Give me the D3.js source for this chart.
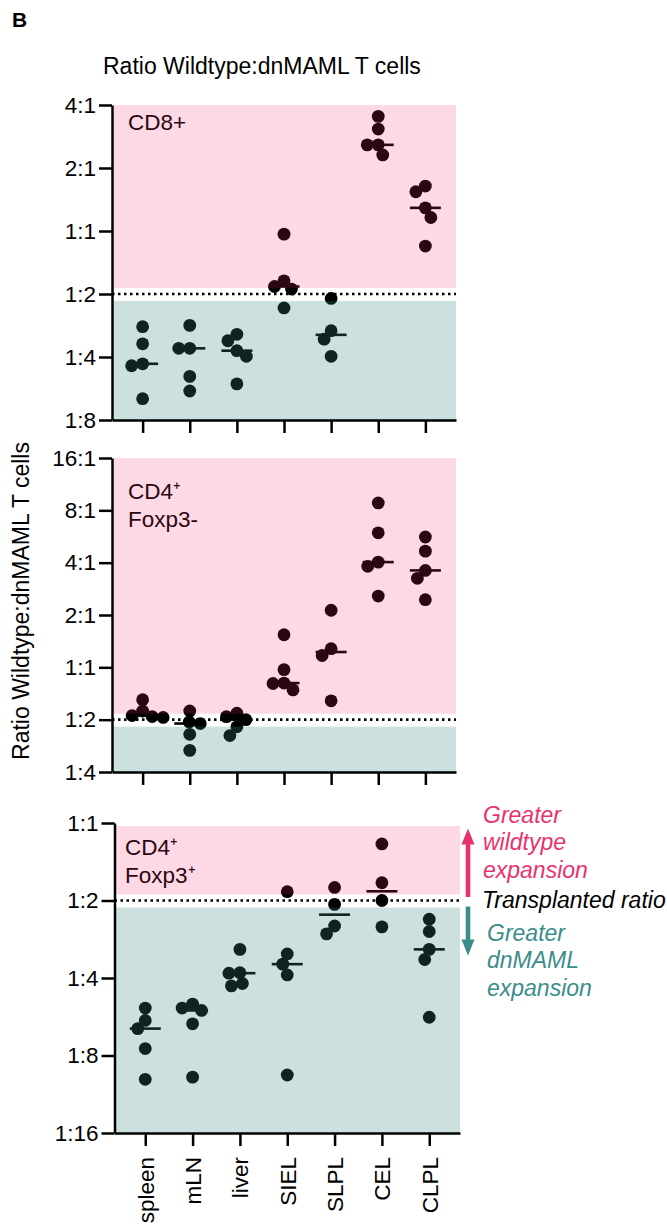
<!DOCTYPE html>
<html>
<head>
<meta charset="utf-8">
<script src="https://cdn.jsdelivr.net/npm/d3@7"></script>
<style>
body { margin: 0; background: #fff; }
text { font-family: "Liberation Sans", Arial, sans-serif; }
</style>
</head>
<body>
<script>
"use strict";

// organs on the x axis
var categories = ["spleen", "mLN", "liver", "SIEL", "SLPL", "CEL", "CLPL"];

// ratio wildtype / dnMAML, one list per organ
var cd8Values = [
    [0.349, 0.289, 0.232, 0.227, 0.158],
    [0.354, 0.275, 0.275, 0.202, 0.172],
    [0.321, 0.299, 0.268, 0.252, 0.186],
    [0.966, 0.578, 0.543, 0.528, 0.429],
    [0.476, 0.334, 0.304, 0.252],
    [3.53, 3.07, 2.58, 2.58, 2.31],
    [1.64, 1.54, 1.29, 1.16, 0.847]
];
var cd4Foxp3negValues = [
    [0.651, 0.561, 0.528, 0.521, 0.515],
    [0.561, 0.485, 0.475, 0.412, 0.333],
    [0.545, 0.52, 0.50, 0.455, 0.405],
    [1.54, 0.97, 0.812, 0.807, 0.742],
    [2.13, 1.28, 1.17, 0.642],
    [8.82, 5.94, 4.03, 3.81, 2.57],
    [5.62, 4.66, 3.61, 3.25, 2.45]
];
var cd4Foxp3posValues = [
    [0.191, 0.171, 0.159, 0.133, 0.101],
    [0.198, 0.191, 0.187, 0.166, 0.103],
    [0.323, 0.262, 0.261, 0.238, 0.233],
    [0.541, 0.310, 0.283, 0.257, 0.105],
    [0.562, 0.483, 0.398, 0.371],
    [0.829, 0.586, 0.5, 0.395],
    [0.423, 0.379, 0.323, 0.295, 0.176]
];

var cd8Ticks = [4, 2, 1, 0.5, 0.25, 0.125];
var cd4negTicks = [16, 8, 4, 2, 1, 0.5, 0.25];
var cd4posTicks = [1, 0.5, 0.25, 0.125, 0.0625];
var transplantedRatio = 0.5;

var PINK = "#e8336f";
var TEAL = "#3a8d8b";

function ratioLabel(v) {
    return v >= 1 ? Math.round(v) + ":1" : "1:" + Math.round(1 / v);
}

// spread dots sideways so they don't pile up (graphpad style)
function beeswarm(ys, minDist) {
    var order = ys.map(function (d, i) { return i; })
        .sort(function (a, b) { return ys[a] - ys[b]; });
    var xs = new Array(ys.length);
    var placed = [];
    var side = -1;
    order.forEach(function (i) {
        var off = 0;
        for (var s = 0; s < 60; s += 0.5) {
            var found = false;
            var tries = s === 0 ? [0] : [s * side, -s * side];
            for (var t = 0; t < tries.length; t++) {
                var ok = placed.every(function (p) {
                    var dx = p.x - tries[t], dy = p.y - ys[i];
                    return dx * dx + dy * dy >= minDist * minDist;
                });
                if (ok) { off = tries[t]; found = true; break; }
            }
            if (found) break;
        }
        if (off !== 0) side = -side;
        xs[i] = off;
        placed.push({x: off, y: ys[i]});
    });
    return xs;
}

function basePanel(svg, cfg) {
    var y = d3.scaleLog().base(2).domain(cfg.domain).range([cfg.bottom, cfg.top]);
    var x = d3.scalePoint().domain(categories).range([cfg.left, cfg.right]).padding(0.65);
    var g = svg.append("g");
    var yMid = y(transplantedRatio);

    // label sits under the tint, like the dots
    cfg.label.forEach(function (line, i) {
        g.append("text")
            .attr("x", cfg.labelX)
            .attr("y", cfg.labelY + i * 28)
            .attr("font-size", "22.5px")
            .attr("fill", "#000")
            .text(line);
    });

    cfg.values.forEach(function (vals, ci) {
        var ys = vals.map(function (v) { return y(v); });
        var xs = beeswarm(ys, 11);
        var cx = x(categories[ci]);
        g.selectAll(null)
            .data(vals)
            .enter()
            .append("circle")
            .attr("cx", function (d, i) { return cx + xs[i]; })
            .attr("cy", function (d, i) { return ys[i]; })
            .attr("r", 6.4)
            .attr("fill", "#000");
        var med = d3.median(vals);
        g.append("line")
            .attr("x1", cx - 15.5)
            .attr("x2", cx + 15.5)
            .attr("y1", y(med))
            .attr("y2", y(med))
            .attr("stroke", "#000")
            .attr("stroke-width", 2.6);
    });

    // tinted regions drawn over the marks
    g.append("rect")
        .attr("x", cfg.left + 1.5)
        .attr("y", cfg.tintTop)
        .attr("width", cfg.right - cfg.left - 1.5)
        .attr("height", yMid - 6 - cfg.tintTop)
        .attr("fill", "rgb(240,40,103)")
        .attr("fill-opacity", 0.175);
    g.append("rect")
        .attr("x", cfg.left + 1.5)
        .attr("y", yMid + 7)
        .attr("width", cfg.right - cfg.left - 1.5)
        .attr("height", cfg.bottom - yMid - 7)
        .attr("fill", "rgb(58,138,131)")
        .attr("fill-opacity", 0.26);

    g.append("line")
        .attr("x1", cfg.left)
        .attr("x2", cfg.right)
        .attr("y1", yMid)
        .attr("y2", yMid)
        .attr("stroke", "#000")
        .attr("stroke-width", 2.6)
        .attr("stroke-dasharray", "2.5,3.5");

    var yAxis = g.append("g")
        .attr("transform", "translate(" + cfg.left + ",0)")
        .call(d3.axisLeft(y).tickValues(cfg.ticks).tickFormat(ratioLabel)
            .tickSize(13).tickSizeOuter(0).tickPadding(3));
    yAxis.selectAll("text").attr("font-size", "22.5px").attr("fill", "#000")
        .attr("font-family", "Liberation Sans, Arial, sans-serif");

    var xAxis = g.append("g")
        .attr("transform", "translate(0," + cfg.bottom + ")")
        .call(d3.axisBottom(x).tickSize(13).tickSizeOuter(0));
    if (cfg.showNames) {
        xAxis.selectAll("text")
            .attr("font-size", "22.5px")
            .attr("fill", "#000")
            .attr("font-family", "Liberation Sans, Arial, sans-serif")
            .attr("transform", "rotate(-90)")
            .attr("x", -24)
            .attr("y", 0)
            .attr("dy", "0.35em")
            .style("text-anchor", "end");
    } else {
        xAxis.selectAll("text").remove();
    }
    svg.selectAll(".domain, .tick line")
        .attr("stroke", "#000")
        .attr("stroke-width", 2.5);
    return y;
}

function baseLegend(svg, y) {
    var yMid = y(transplantedRatio);
    var ax = 468;
    svg.append("path")
        .attr("d", "M" + (ax - 2.3) + "," + (yMid - 3.5) + "V" + (yMid - 56) + "H" + (ax - 6.5)
            + "L" + ax + "," + (yMid - 72) + "L" + (ax + 6.5) + "," + (yMid - 56)
            + "H" + (ax + 2.3) + "V" + (yMid - 3.5) + "Z")
        .attr("fill", PINK);
    svg.append("path")
        .attr("d", "M" + (ax - 2.3) + "," + (yMid + 6) + "V" + (yMid + 39) + "H" + (ax - 6.5)
            + "L" + ax + "," + (yMid + 55) + "L" + (ax + 6.5) + "," + (yMid + 39)
            + "H" + (ax + 2.3) + "V" + (yMid + 6) + "Z")
        .attr("fill", TEAL);

    var up = ["Greater", "wildtype", "expansion"];
    var down = ["Greater", "dnMAML", "expansion"];
    up.forEach(function (s, i) {
        svg.append("text")
            .attr("x", 483).attr("y", yMid - 78 + i * 27.5)
            .attr("font-size", "23px").attr("font-style", "italic")
            .attr("fill", PINK).text(s);
    });
    svg.append("text")
        .attr("x", 482).attr("y", yMid + 7.5)
        .attr("font-size", "23px").attr("font-style", "italic")
        .attr("fill", "#000").text("Transplanted ratio");
    down.forEach(function (s, i) {
        svg.append("text")
            .attr("x", 487).attr("y", yMid + 40 + i * 27.5)
            .attr("font-size", "23px").attr("font-style", "italic")
            .attr("fill", TEAL).text(s);
    });
}

var svg = d3.select("body").append("svg")
    .attr("width", 667)
    .attr("height", 1224);

svg.append("text")
    .attr("x", 12).attr("y", 27)
    .attr("font-size", "21px").attr("font-weight", "bold")
    .text("B");
svg.append("text")
    .attr("x", 103).attr("y", 74)
    .attr("font-size", "23px")
    .text("Ratio Wildtype:dnMAML T cells");
svg.append("text")
    .attr("transform", "translate(29,601) rotate(-90)")
    .attr("text-anchor", "middle")
    .attr("font-size", "23px")
    .text("Ratio Wildtype:dnMAML T cells");

basePanel(svg, {
    top: 105, bottom: 420, left: 112, right: 456, tintTop: 105,
    domain: [0.125, 4], ticks: cd8Ticks, values: cd8Values,
    label: ["CD8+"], labelX: 128, labelY: 130, showNames: false
});
basePanel(svg, {
    top: 458, bottom: 772, left: 112, right: 456, tintTop: 458,
    domain: [0.25, 16], ticks: cd4negTicks, values: cd4Foxp3negValues,
    label: ["CD4\u207A", "Foxp3-"], labelX: 128, labelY: 499, showNames: false
});
var yBottom = basePanel(svg, {
    top: 823, bottom: 1133, left: 114.5, right: 460, tintTop: 826,
    domain: [0.0625, 1], ticks: cd4posTicks, values: cd4Foxp3posValues,
    label: ["CD4\u207A", "Foxp3\u207A"], labelX: 125, labelY: 855, showNames: true
});
baseLegend(svg, yBottom);
</script>
</body>
</html>
